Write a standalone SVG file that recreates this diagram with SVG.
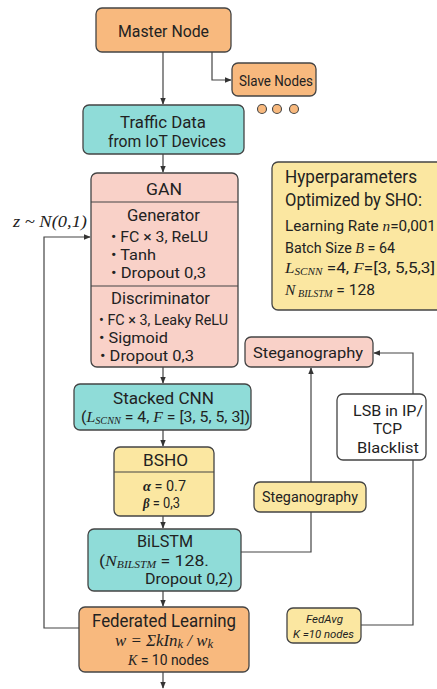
<svg xmlns="http://www.w3.org/2000/svg" width="437" height="689" viewBox="0 0 437 689">
<defs>
<marker id="ah" viewBox="0 0 10 10" refX="9" refY="5" markerWidth="6" markerHeight="6" orient="auto"><path d="M0,1 L10,5 L0,9 z" fill="#333"/></marker>
<style>
.box{stroke:#444;stroke-width:1.3}
.or{fill:#F8B97E}.te{fill:#8FDCD8}.pk{fill:#F9D1C8}.ye{fill:#FBE7A1}.wh{fill:#fff}
text{font-family:"Roboto","Liberation Sans",sans-serif;fill:#222}
.m{font-family:"Liberation Serif","DejaVu Serif",serif;font-style:italic}
.s{font-family:"Roboto","Liberation Sans",sans-serif;font-style:normal;font-weight:normal}
.ln{fill:none;stroke:#444;stroke-width:1.2}
</style>
</defs>
<rect width="437" height="689" fill="#fff"/>
<g id="connectors">
<path class="ln" d="M163,52 V104" marker-end="url(#ah)"/>
<path class="ln" d="M212,52 V80 H231" marker-end="url(#ah)"/>
<path class="ln" d="M163,154 V172" marker-end="url(#ah)"/>
<path class="ln" d="M163,367 V383" marker-end="url(#ah)"/>
<path class="ln" d="M163,430 V446" marker-end="url(#ah)"/>
<path class="ln" d="M163,516 V528" marker-end="url(#ah)"/>
<path class="ln" d="M163,591 V606" marker-end="url(#ah)"/>
<path class="ln" d="M163,672 V688" marker-end="url(#ah)"/>
<path class="ln" d="M79,628 H44 V237 H90" marker-end="url(#ah)"/>
<path class="ln" d="M241,552 H311 V368" marker-end="url(#ah)"/>
<path class="ln" d="M361,625 H413 V460"/>
<path class="ln" d="M413,394 V353 H374" marker-end="url(#ah)"/>
</g>
<g id="master"><rect class="box or" x="96" y="8" width="135" height="44" rx="6"/><text x="118" y="37" font-size="16" textLength="91" lengthAdjust="spacingAndGlyphs">Master Node</text></g>
<g id="slave"><rect class="box or" x="232" y="63" width="84" height="33" rx="6"/><text x="239" y="86" font-size="14" textLength="74" lengthAdjust="spacingAndGlyphs">Slave Nodes</text></g>
<g id="dots" fill="#F8B97E" stroke="#444" stroke-width="1.1"><circle cx="262" cy="109" r="4.5"/><circle cx="277" cy="109" r="4.5"/><circle cx="294" cy="109" r="4.5"/></g>
<g id="traffic"><rect class="box te" x="83" y="105" width="161" height="49" rx="6"/><text x="120" y="128" font-size="16" textLength="86" lengthAdjust="spacingAndGlyphs">Traffic Data</text><text x="108" y="147" font-size="16" textLength="118" lengthAdjust="spacingAndGlyphs">from IoT Devices</text></g>
<g id="gan"><rect class="box pk" x="91" y="173" width="147" height="194" rx="6"/>
<line class="ln" x1="91" y1="202" x2="238" y2="202"/><line class="ln" x1="91" y1="286" x2="238" y2="286"/>
<text x="146" y="195" font-size="17" textLength="36" lengthAdjust="spacingAndGlyphs">GAN</text>
<text x="127" y="221" font-size="16" textLength="73" lengthAdjust="spacingAndGlyphs">Generator</text>
<text x="111" y="242" font-size="15.5" textLength="97" lengthAdjust="spacingAndGlyphs">• FC × 3, ReLU</text>
<text x="111" y="260" font-size="15.5" textLength="45" lengthAdjust="spacingAndGlyphs">• Tanh</text>
<text x="111" y="278" font-size="15.5" textLength="95" lengthAdjust="spacingAndGlyphs">• Dropout 0,3</text>
<text x="111" y="304" font-size="16" textLength="99" lengthAdjust="spacingAndGlyphs">Discriminator</text>
<text x="99" y="325" font-size="15" textLength="129" lengthAdjust="spacingAndGlyphs">• FC × 3, Leaky ReLU</text>
<text x="99" y="343" font-size="15.5" textLength="69" lengthAdjust="spacingAndGlyphs">• Sigmoid</text>
<text x="100" y="361" font-size="15.5" textLength="94" lengthAdjust="spacingAndGlyphs">• Dropout 0,3</text></g>
<g id="noise"><text class="m" x="13" y="227" font-size="17" textLength="74" lengthAdjust="spacingAndGlyphs">z ~ N(0,1)</text></g>
<g id="hyper"><rect class="box ye" x="272" y="162" width="172" height="148" rx="6"/>
<text x="285" y="183" font-size="17.5" textLength="132" lengthAdjust="spacingAndGlyphs">Hyperparameters</text>
<text x="285" y="206" font-size="17.5" textLength="137" lengthAdjust="spacingAndGlyphs">Optimized by SHO:</text>
<text x="285" y="231" font-size="14.5" textLength="151" lengthAdjust="spacingAndGlyphs">Learning Rate <tspan class="m">n</tspan>=0,001</text>
<text x="285" y="253" font-size="14.5" textLength="110" lengthAdjust="spacingAndGlyphs">Batch Size <tspan class="m">B</tspan> = 64</text>
<text x="285" y="273" font-size="14.5" textLength="150" lengthAdjust="spacingAndGlyphs"><tspan class="m">L</tspan><tspan font-size="9.5" class="m" dy="2">SCNN</tspan><tspan dy="-2"> =4, </tspan><tspan class="m">F</tspan>=[3, 5,5,3]</text>
<text x="285" y="295" font-size="14.5" textLength="90" lengthAdjust="spacingAndGlyphs"><tspan class="m">N</tspan><tspan font-size="9.5" class="m" dy="2"> BILSTM</tspan><tspan dy="-2"> = 128</tspan></text></g>
<g id="cnn"><rect class="box te" x="74" y="384" width="177" height="46" rx="6"/><text x="113" y="404" font-size="17" textLength="101" lengthAdjust="spacingAndGlyphs">Stacked CNN</text><text x="81" y="422" font-size="15.5" textLength="169" lengthAdjust="spacingAndGlyphs">(<tspan class="m">L</tspan><tspan font-size="10" class="m" dy="2">SCNN</tspan><tspan dy="-2"> = 4, </tspan><tspan class="m">F</tspan> = [3, 5, 5, 3])</text></g>
<g id="bsho"><rect class="box ye" x="114" y="447" width="100" height="69" rx="6"/><line class="ln" x1="114" y1="472" x2="214" y2="472"/><text x="143" y="466" font-size="17" textLength="45" lengthAdjust="spacingAndGlyphs">BSHO</text><text x="143" y="491" font-size="14.5" textLength="43" lengthAdjust="spacingAndGlyphs"><tspan class="m" font-weight="bold">α</tspan> = 0.7</text><text x="143" y="508" font-size="14.5" textLength="37" lengthAdjust="spacingAndGlyphs"><tspan class="m" font-weight="bold">β</tspan> = 0,3</text></g>
<g id="steg1"><rect class="box pk" x="245" y="337" width="128" height="30" rx="6"/><text x="253" y="358" font-size="15" textLength="110" lengthAdjust="spacingAndGlyphs">Steganography</text></g>
<g id="lsb"><rect class="box wh" x="337" y="394" width="89" height="66" rx="6"/><text x="353" y="416" font-size="15" textLength="70" lengthAdjust="spacingAndGlyphs">LSB in IP/</text><text x="373" y="434" font-size="15" textLength="29" lengthAdjust="spacingAndGlyphs">TCP</text><text x="357" y="453" font-size="15" textLength="62" lengthAdjust="spacingAndGlyphs">Blacklist</text></g>
<g id="steg2"><rect class="box ye" x="254" y="482" width="112" height="30" rx="6"/><text x="262" y="502" font-size="14" textLength="96" lengthAdjust="spacingAndGlyphs">Steganography</text></g>
<g id="bilstm"><rect class="box te" x="88" y="529" width="153" height="62" rx="6"/><text x="137" y="547" font-size="16" textLength="56" lengthAdjust="spacingAndGlyphs">BiLSTM</text><text x="99" y="566" font-size="14.5" textLength="110" lengthAdjust="spacingAndGlyphs">(<tspan class="m">N</tspan><tspan font-size="9.5" class="m" dy="2">BILSTM</tspan><tspan dy="-2">  =  128.</tspan></text><text x="145" y="584" font-size="14.5" textLength="88" lengthAdjust="spacingAndGlyphs">Dropout 0,2)</text></g>
<g id="fl"><rect class="box or" x="79" y="607" width="170" height="65" rx="6"/><text x="92" y="627" font-size="18" textLength="144" lengthAdjust="spacingAndGlyphs">Federated Learning</text><text class="m" x="115" y="646" font-size="16" textLength="98" lengthAdjust="spacingAndGlyphs">w = ΣkIn<tspan font-size="12" dy="2">k</tspan><tspan dy="-2"> / w</tspan><tspan font-size="12" dy="2">k</tspan></text><text x="128" y="665" font-size="15" textLength="81" lengthAdjust="spacingAndGlyphs"><tspan class="m">K</tspan> = 10 nodes</text></g>
<g id="fedavg"><rect class="box ye" x="287" y="608" width="74" height="35" rx="6"/><text x="306" y="623" font-size="10.5" font-style="italic" textLength="37" lengthAdjust="spacingAndGlyphs">FedAvg</text><text x="293" y="638" font-size="11.5" font-style="italic" textLength="61" lengthAdjust="spacingAndGlyphs">K =10 nodes</text></g>
</svg>
